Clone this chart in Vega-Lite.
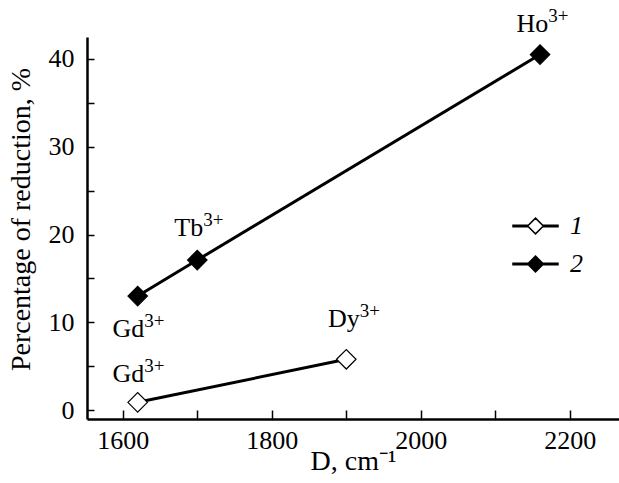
{
  "$schema": "https://vega.github.io/schema/vega-lite/v6.json",
  "width": 532,
  "height": 382,
  "autosize": "none",
  "padding": {"left": 87, "top": 37, "right": 0, "bottom": 64},
  "background": "white",
  "config": {"view": {"stroke": null}, "font": "Liberation Serif"},
  "datasets": {
    "points": [
      {"series": "1", "D": 1620, "pct": 0.9},
      {"series": "1", "D": 1900, "pct": 5.8},
      {"series": "2", "D": 1620, "pct": 13},
      {"series": "2", "D": 1700, "pct": 17.1},
      {"series": "2", "D": 2160, "pct": 40.5}
    ],
    "labels": [
      {"ion": "Gd", "charge": "3+", "D": 1629, "pct": 3.25},
      {"ion": "Gd", "charge": "3+", "D": 1629, "pct": 8.3},
      {"ion": "Dy", "charge": "3+", "D": 1918, "pct": 9.5},
      {"ion": "Tb", "charge": "3+", "D": 1708, "pct": 19.85},
      {"ion": "Ho", "charge": "3+", "D": 2171, "pct": 43.1}
    ]
  },
  "encoding": {
    "x": {
      "field": "D", "type": "quantitative",
      "scale": {"domain": [1552, 2266], "nice": false, "zero": false},
      "axis": {
        "values": [1600, 1700, 1800, 1900, 2000, 2100, 2200],
        "labelExpr": "datum.value % 200 == 0 ? datum.label : ''",
        "format": "d",
        "grid": false,
        "tickSize": -9, "tickWidth": 1.5, "tickColor": "black",
        "domainColor": "black", "domainWidth": 2.5,
        "labelFontSize": 26, "labelColor": "black", "labelPadding": 17, "labelFont": "Liberation Serif",
        "title": "D, cm⁻¹", "titleFontSize": 28, "titleFontWeight": "normal", "titleColor": "black", "titleFont": "Liberation Serif",
        "titleBaseline": "alphabetic", "titleY": 50
      }
    },
    "y": {
      "field": "pct", "type": "quantitative",
      "scale": {"domain": [-1, 42.5], "nice": false, "zero": false},
      "axis": {
        "values": [0, 5, 10, 15, 20, 25, 30, 35, 40],
        "labelExpr": "datum.value % 10 == 0 ? datum.label : ''",
        "grid": false,
        "tickSize": -7, "tickWidth": 1.5, "tickColor": "black",
        "domainColor": "black", "domainWidth": 2.5,
        "labelFontSize": 26, "labelColor": "black", "labelPadding": 20, "labelFont": "Liberation Serif",
        "title": "Percentage of reduction, %", "titleFontSize": 28, "titleFontWeight": "normal", "titleColor": "black", "titleFont": "Liberation Serif",
        "titleX": -52, "titleY": 182
      }
    }
  },
  "layer": [
    {
      "data": {"name": "points"},
      "mark": {"type": "line", "color": "black", "strokeWidth": 3},
      "encoding": {"detail": {"field": "series", "type": "nominal"}}
    },
    {
      "data": {"name": "points"},
      "mark": {"type": "point", "shape": "diamond", "size": 380, "filled": true, "stroke": "black", "strokeWidth": 1.2, "opacity": 1},
      "encoding": {
        "fill": {
          "field": "series", "type": "nominal",
          "scale": {"domain": ["1", "2"], "range": ["white", "black"]},
          "legend": {
            "orient": "none", "legendX": 425, "legendY": 165.5,
            "title": null, "padding": 0,
            "symbolType": "M-1,-0.03H-0.35V0.03H-1Z M0.35,-0.03H1V0.03H0.35Z M0,-0.35L0.35,0L0,0.35L-0.35,0Z",
            "symbolSize": 2025, "symbolStrokeColor": "black", "symbolStrokeWidth": 1.5, "symbolOpacity": 1,
            "labelFont": "Liberation Serif", "labelFontStyle": "italic", "labelFontSize": 26, "labelColor": "black",
            "labelOffset": 11, "rowPadding": 1
          }
        }
      }
    },
    {
      "data": {"name": "labels"},
      "mark": {"type": "text", "fontSize": 26, "font": "Liberation Serif", "color": "black", "align": "right", "baseline": "alphabetic"},
      "encoding": {"text": {"field": "ion", "type": "nominal"}}
    },
    {
      "data": {"name": "labels"},
      "mark": {"type": "text", "fontSize": 19, "font": "Liberation Serif", "color": "black", "align": "left", "baseline": "alphabetic", "dy": -10},
      "encoding": {"text": {"field": "charge", "type": "nominal"}}
    }
  ]
}
